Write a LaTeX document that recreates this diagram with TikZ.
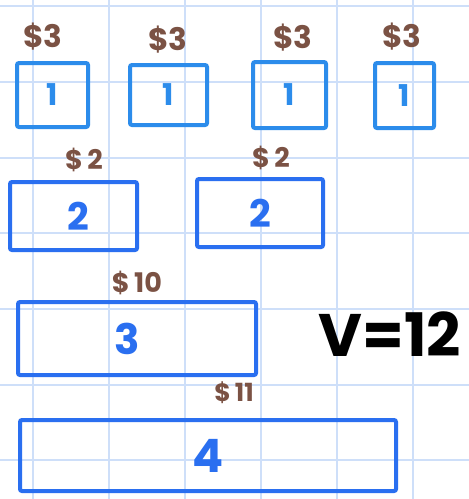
\documentclass[tikz,border=0pt]{standalone}
\usepackage{fontspec}
\setmainfont{Poppins}
\definecolor{gridblue}{HTML}{CEDFF9}
\definecolor{boxblueA}{HTML}{2C8CEB}
\definecolor{boxblueB}{HTML}{2A6FF0}
\definecolor{costbrown}{HTML}{7B5244}
\tikzset{
  itembox/.style={draw, rectangle, rounded corners=2pt, line width=4pt, inner sep=0pt},
  topbox/.style={itembox, draw=boxblueA, text=boxblueA, font=\fontsize{30}{30}\selectfont\bfseries},
  lowbox/.style={itembox, draw=boxblueB, text=boxblueB},
  cost/.style={text=costbrown, inner sep=0pt, font=\fontsize{31}{31}\selectfont\bfseries},
}
\begin{document}
\begin{tikzpicture}[x=1pt, y=-1pt]
  \useasboundingbox (0,0) rectangle (469,499);
  \fill[white] (0,0) rectangle (469,499);

  % squared paper
  \foreach \gx in {33,109,185,261,337,413}
    \draw[gridblue, line width=1.8pt] (\gx,0) -- (\gx,499);
  \foreach \gy in {6,82,158,233,309,385,460}
    \draw[gridblue, line width=1.8pt] (0,\gy) -- (469,\gy);

  % row of size-1 items
  \node[topbox, minimum width=71pt, minimum height=64pt] (one1) at (52.5,95) {1};
  \node[topbox, minimum width=77pt, minimum height=60pt] (one2) at (168.5,95) {1};
  \node[topbox, minimum width=73pt, minimum height=66pt] (one3) at (289.5,95) {1};
  \node[topbox, minimum width=59pt, minimum height=65pt] (one4) at (404.5,95.5) {1};
  \node[cost] (c1) at (43,37) {\$3};
  \node[cost] (c2) at (168,40) {\$3};
  \node[cost] (c3) at (293,38) {\$3};
  \node[cost] (c4) at (402,37) {\$3};

  % row of size-2 items
  \node[lowbox, minimum width=127pt, minimum height=68pt, font=\fontsize{38}{38}\selectfont\bfseries] (two1) at (73.5,216) {\hspace*{10pt}2};
  \node[lowbox, minimum width=126pt, minimum height=68pt, font=\fontsize{38}{38}\selectfont\bfseries] (two2) at (260,213) {2};
  \node[cost, font=\fontsize{27}{27}\selectfont\bfseries] (c5) at (84,160) {\$\,2};
  \node[cost, font=\fontsize{27}{27}\selectfont\bfseries] (c6) at (271,158) {\$\,2};

  % size-3 item (digit sits a little left of centre)
  \node[lowbox, minimum width=238pt, minimum height=73pt, font=\fontsize{42}{42}\selectfont\bfseries] (three) at (137,338.5) {\hspace*{-20pt}3};
  \node[cost, font=\fontsize{27}{27}\selectfont\bfseries] (c7) at (137,283) {\$\,10};

  % size-4 item
  \node[lowbox, minimum width=376pt, minimum height=71pt, font=\fontsize{46}{46}\selectfont\bfseries] (four) at (208,455.5) {4};
  \node[cost, font=\fontsize{25}{25}\selectfont\bfseries] (c8) at (234,393) {\$\,11};

  % capacity
  \node[inner sep=0pt, font=\fontsize{60}{60}\selectfont\bfseries] (cap) at (390,334) {V=12};
\end{tikzpicture}
\end{document}
